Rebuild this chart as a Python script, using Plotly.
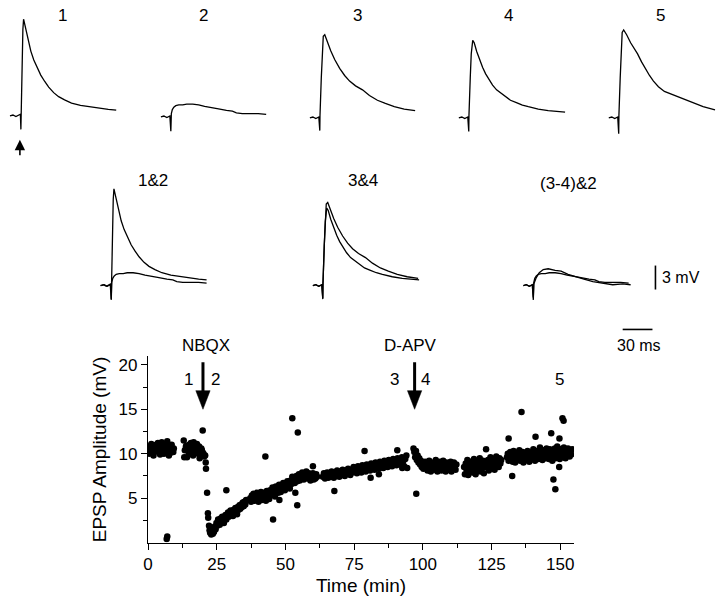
import plotly.graph_objects as go

# ---------------- EPSP amplitude time course (min, mV) ----------------
base_a_t = [0.2, 0.4, 0.6, 1.0, 1.2, 1.4, 1.8, 2.0, 2.2, 2.6, 2.8, 3.0, 3.4, 3.6, 3.8, 4.2, 4.4, 4.6,
            5.0, 5.2, 5.4, 5.8, 6.0, 6.2, 6.6, 6.8, 7.0, 7.4, 7.6, 7.8, 8.2, 8.4, 8.6, 9.0, 9.2, 9.4]
base_a_v = [10.6, 10.0, 10.2, 10.9, 11.1, 10.4, 10.1, 9.8, 10.7, 10.3, 10.8, 11.0, 10.5, 11.2, 10.2, 10.8, 9.9, 10.4,
            11.3, 10.6, 10.6, 10.0, 10.2, 10.9, 10.5, 11.0, 11.4, 10.3, 9.8, 10.7, 10.1, 10.9, 11.0, 10.4, 10.2, 10.6]

base_b_t = [13.0, 13.2, 13.4, 13.8, 14.0, 14.2, 14.6, 14.8, 15.0, 15.4, 15.6, 15.8, 16.2, 16.4, 16.6,
            17.0, 17.2, 17.4, 17.8, 18.0, 18.2, 18.6, 18.8, 19.0, 19.4, 19.6, 19.8, 20.2, 20.4]
base_b_v = [11.5, 9.6, 10.4, 10.8, 10.9, 9.6, 10.6, 10.1, 11.0, 10.2, 11.2, 10.9, 10.5, 9.8, 11.3,
            10.0, 10.6, 10.7, 11.1, 10.1, 10.3, 10.8, 9.5, 9.9, 10.6, 10.4, 10.2, 10.0, 9.7]

nbqx_drop_t = [19.9, 20.8, 21.0, 21.1, 21.5, 21.8, 21.9]
nbqx_drop_v = [12.6, 9.8, 9.0, 8.3, 5.6, 3.3, 2.8]

recov_a_t = [22.2, 22.4, 22.6, 22.8, 23.0, 23.2, 23.4, 23.6, 23.8, 24.0,
             24.3, 24.6, 24.9, 25.2, 25.5, 25.8, 26.1, 26.4, 26.7, 27.0,
             27.3, 27.6, 27.9, 28.2, 28.5, 28.8, 29.1, 29.4, 29.7, 30.0,
             30.3, 30.6, 30.9, 31.2, 31.5, 31.8, 32.1, 32.4, 32.7, 33.0,
             33.3, 33.6, 33.9, 34.2, 34.5, 34.8, 35.1, 35.4, 35.7]
recov_a_v = [1.9, 1.4, 1.1, 1.7, 0.9, 1.3, 1.6, 1.0, 1.5, 1.2,
             1.8, 1.5, 2.2, 1.9, 2.6, 2.3, 2.0, 2.7, 2.4, 2.9,
             2.5, 2.2, 2.8, 3.1, 2.6, 3.0, 3.4, 2.9, 3.3, 3.6,
             3.1, 3.5, 3.0, 3.7, 3.3, 3.9, 3.5, 3.2, 4.0, 3.7,
             4.2, 3.8, 4.3, 4.0, 4.5, 4.1, 4.6, 4.3, 4.8]

recov_b_t = [37.2, 37.5, 37.8, 38.1, 38.4, 38.7, 39.0, 39.3, 39.6, 39.9,
             40.2, 40.5, 40.8, 41.1, 41.4, 41.7, 42.0, 42.3, 42.6, 42.9,
             43.2, 43.5, 43.8, 44.1, 44.4, 44.7, 45.0, 45.3, 45.6, 45.9,
             46.2, 46.5, 46.8, 47.1, 47.4, 47.7, 48.0, 48.3, 48.6, 48.9,
             49.2, 49.5, 49.8, 50.1, 50.4, 50.7, 51.0, 51.3, 51.6, 51.9,
             52.2, 52.5, 52.8, 53.1, 53.4, 53.7, 54.0, 54.3, 54.6, 54.9,
             55.2, 55.5, 55.8, 56.1, 56.4, 56.7, 57.0, 57.3, 57.6, 57.9,
             58.2, 58.5, 58.8, 59.1, 59.4, 59.7, 60.0, 60.3, 60.6, 60.9,
             61.2, 61.5]
recov_b_v = [5.0, 4.6, 5.3, 4.9, 5.5, 4.7, 5.2, 4.9, 5.6, 5.0,
             4.6, 5.3, 5.1, 5.7, 4.8, 5.4, 5.0, 5.6, 5.2, 4.7,
             5.8, 5.3, 5.5, 4.9, 5.9, 5.4, 5.7, 6.2, 5.5, 6.0,
             5.2, 6.3, 5.8, 6.1, 5.6, 6.5, 6.0, 5.7, 6.4, 6.1,
             6.7, 6.2, 5.9, 6.6, 6.3, 6.9, 6.4, 6.8, 6.1, 7.0,
             6.6, 7.4, 6.8, 7.2, 6.7, 7.0, 7.5, 6.9, 7.3, 7.7,
             7.0, 7.6, 7.2, 7.9, 7.4, 7.1, 7.7, 7.3, 8.0, 7.5,
             7.2, 7.8, 7.4, 7.0, 7.6, 7.3, 7.8, 7.1, 7.5, 7.2,
             7.7, 7.4]

recov_c_t = [63.6, 64.0, 64.4, 64.8, 65.2, 65.6, 66.0, 66.4, 66.8, 67.2,
             67.6, 68.0, 68.4, 68.8, 69.2, 69.6, 70.0, 70.4, 70.8, 71.2,
             71.6, 72.0, 72.4, 72.8, 73.2, 73.6, 74.0, 74.4, 74.8, 75.2,
             75.6, 76.0, 76.4, 76.8, 77.2, 77.6, 78.0, 78.4, 78.8, 79.2,
             79.6, 80.0, 80.4, 80.8, 81.2, 81.6, 82.0, 82.4, 82.8, 83.2,
             83.6, 84.0, 84.4, 84.8, 85.2, 85.6, 86.0, 86.4, 86.8, 87.2,
             87.6, 88.0, 88.4, 88.8, 89.2, 89.6, 90.0, 90.4, 90.8, 91.2,
             91.6, 92.0, 92.4, 92.8, 93.2, 93.6, 94.0, 94.3]
recov_c_v = [7.4, 7.8, 7.2, 7.6, 7.9, 7.3, 7.7, 7.4, 8.0, 7.6,
             7.3, 7.9, 7.5, 8.1, 7.7, 7.4, 8.0, 7.6, 8.2, 7.8,
             7.5, 8.1, 7.8, 8.3, 7.9, 7.6, 8.2, 7.9, 8.5, 8.0,
             8.3, 7.8, 8.6, 8.1, 8.4, 7.9, 8.7, 8.2, 8.5, 8.0,
             8.8, 8.3, 8.6, 8.1, 8.9, 8.4, 8.7, 8.2, 9.0, 8.5,
             8.8, 8.3, 9.1, 8.6, 8.9, 8.4, 9.2, 8.7, 9.0, 8.5,
             9.3, 8.8, 9.1, 8.6, 9.4, 8.9, 9.2, 8.7, 9.5, 9.0,
             9.3, 8.8, 9.6, 9.1, 8.6, 9.4, 9.8, 8.4]

apv_a_t = [96.6, 96.9, 97.2, 97.5, 97.8, 98.1, 98.4, 98.7, 99.0, 99.3,
           99.6, 99.9, 100.2, 100.5, 100.8, 101.1, 101.4, 101.7, 102.0, 102.3,
           102.6, 102.9, 103.2, 103.5, 103.8, 104.1, 104.4, 104.7, 105.0, 105.3,
           105.6, 105.9, 106.2, 106.5, 106.8, 107.1, 107.4, 107.7, 108.0, 108.3,
           108.6, 108.9, 109.2, 109.5, 109.8, 110.1, 110.4, 110.7, 111.0, 111.3,
           111.6, 111.9, 112.2]
apv_a_v = [10.6, 10.2, 9.6, 10.3, 9.3, 9.8, 9.0, 9.5, 8.8, 9.2,
           8.5, 9.0, 8.3, 8.8, 9.1, 8.4, 8.9, 8.1, 8.7, 9.2,
           8.5, 8.0, 8.8, 8.3, 9.0, 8.6, 8.2, 9.3, 8.7, 8.0,
           8.9, 8.4, 9.1, 8.6, 8.1, 8.8, 9.2, 8.3, 8.7, 8.0,
           9.0, 8.5, 8.2, 8.9, 8.4, 9.1, 8.0, 8.6, 8.3, 9.0,
           8.5, 8.2, 8.8]

apv_b_t = [115.0, 115.3, 115.6, 115.9, 116.2, 116.5, 116.8, 117.1, 117.4, 117.7,
           118.0, 118.3, 118.6, 118.9, 119.2, 119.5, 119.8, 120.1, 120.4, 120.7,
           121.0, 121.3, 121.6, 121.9, 122.2, 122.5, 122.8, 123.1, 123.4, 123.7,
           124.0, 124.3, 124.6, 124.9, 125.2, 125.5, 125.8, 126.1, 126.4, 126.7,
           127.0, 127.3, 127.6, 127.9, 128.2, 128.5]
apv_b_v = [8.5, 7.7, 8.9, 8.2, 9.3, 7.6, 8.7, 8.1, 9.1, 8.4,
           7.9, 8.8, 9.4, 8.3, 7.7, 8.6, 9.0, 8.2, 8.7, 9.5,
           8.0, 8.9, 8.4, 9.2, 7.8, 8.6, 9.0, 8.5, 8.5, 9.3,
           8.1, 8.8, 9.6, 8.4, 9.0, 8.6, 9.4, 8.2, 8.9, 9.7,
           8.7, 9.2, 8.5, 9.5, 8.9, 9.3]

apv_c_t = [130.6, 130.9, 131.2, 131.5, 131.8, 132.1, 132.4, 132.7, 133.0, 133.3,
           133.6, 133.9, 134.2, 134.5, 134.8, 135.1, 135.4, 135.7, 136.0, 136.3,
           136.6, 136.9, 137.2, 137.5, 137.8, 138.1, 138.4, 138.7, 139.0, 139.3,
           139.6, 139.9, 140.2, 140.5, 140.8, 141.1, 141.4, 141.7, 142.0, 142.3,
           142.6, 142.9, 143.2, 143.5, 143.8, 144.1, 144.4, 144.7, 145.0, 145.3,
           145.6, 145.9, 146.2, 146.5, 146.8, 147.1, 147.4, 147.7, 148.0, 148.3,
           148.6, 148.9, 149.2, 149.5, 149.8, 150.1, 150.4, 150.7, 151.0, 151.3,
           151.6, 151.9, 152.2, 152.5, 152.8, 153.1, 153.4, 153.7, 154.0, 154.3]
apv_c_v = [9.6, 10.0, 9.2, 9.8, 10.2, 9.4, 9.9, 9.1, 10.3, 9.6,
           9.0, 9.8, 10.1, 9.4, 9.7, 10.4, 9.2, 9.9, 9.5, 10.2,
           9.0, 9.7, 10.0, 9.3, 9.8, 10.3, 9.5, 9.1, 9.9, 10.1,
           9.4, 9.8, 10.5, 9.6, 9.2, 10.0, 9.7, 10.3, 9.4, 9.9,
           10.7, 9.6, 10.1, 9.3, 10.4, 9.8, 10.0, 9.5, 10.6, 9.9,
           10.2, 9.4, 10.5, 9.7, 10.1, 9.2, 10.4, 9.8, 10.6, 9.5,
           10.0, 10.8, 9.7, 10.2, 9.4, 10.5, 9.9, 10.3, 9.6, 10.7,
           10.0, 9.5, 10.4, 9.8, 10.6, 10.1, 9.7, 10.3, 9.9, 10.5]

outlier_t = [6.8, 7.0, 28.5, 42.7, 45.5, 47.8, 52.5, 53.6, 54.3, 54.5,
             60.0, 67.8, 78.8, 81.0, 84.0, 90.7, 92.5, 97.6, 123.0, 131.2,
             132.5, 135.9, 141.0, 146.7, 147.5, 148.2, 149.6, 149.7, 150.8, 151.2]
outlier_v = [0.4, 0.7, 5.9, 9.7, 2.6, 4.8, 14.0, 5.6, 4.2, 12.4,
             8.6, 5.8, 10.3, 7.3, 7.7, 10.4, 8.4, 5.5, 10.5, 11.7,
             7.5, 14.7, 11.9, 12.3, 7.1, 6.0, 8.5, 11.7, 14.0, 13.7]

drug_names = ["NBQX", "D-APV"]
drug_times = [20, 97]
sample_labels = ["1", "2", "3", "4", "5"]
sample_times = [14.8, 24.6, 89.6, 100.8, 149.6]

x_ticks = [0, 25, 50, 75, 100, 125, 150]
y_ticks = [5, 10, 15, 20]

# ---------------- EPSP traces (ms after stimulus, mV) ----------------
trace1_ms = [-11, -8, -5, -2, -0.5, 0, 0.2, 1.2, 2.0, 2.7, 4, 6, 8, 10, 13, 16, 20, 24, 28, 33, 38, 44, 51, 60, 70, 80, 88, 96]
trace1_mv = [0.0, 0.1, -0.1, 0.1, 0.2, -1.7, 0.3, 7.0, 10.8, 12.1, 11.4, 10.2, 9.1, 8.1, 7.0, 6.1, 5.1, 4.3, 3.6, 2.9,
             2.4, 2.0, 1.6, 1.3, 1.1, 0.9, 0.8, 0.7]
trace2_ms = [-10, -7, -4, -1, 0, 0.5, 1.5, 3, 5, 8, 12, 16, 22, 28, 34, 40, 48, 56, 62, 66, 72, 80, 88, 96]
trace2_mv = [0, 0.1, -0.1, 0.1, -1.8, 0.4, 0.9, 1.2, 1.4, 1.5, 1.5, 1.6, 1.6, 1.5, 1.3, 1.2, 1.0, 0.8, 0.7, 0.5,
             0.4, 0.4, 0.4, 0.3]
trace3_ms = [-10, -7, -4, -1, 0, 0.2, 1.5, 2.5, 3.5, 5, 8, 11, 15, 20, 25, 30, 36, 43, 50, 58, 66, 75, 85, 96]
trace3_mv = [0, 0.1, -0.1, 0.1, -1.6, 0.3, 5.0, 8.5, 10.2, 10.4, 9.3, 8.4, 7.3, 6.2, 5.3, 4.6, 4.0, 3.5, 2.8, 2.2,
             1.8, 1.4, 1.1, 0.9]
trace4_ms = [-10, -7, -4, -1, 0, 0.2, 1.5, 2.5, 4, 5.5, 8, 11, 14, 17, 20, 24, 28, 32, 36, 42, 48, 54, 60, 70, 80, 90, 97]
trace4_mv = [0, 0.1, -0.1, 0.1, -1.7, 0.3, 5.0, 8.0, 9.7, 9.4, 8.3, 7.2, 6.3, 5.5, 4.9, 4.1, 3.5, 3.1, 2.7, 2.2,
             1.9, 1.6, 1.4, 1.1, 0.9, 0.8, 0.7]
trace5_ms = [-10, -7, -4, -1, 0, 0.2, 1.5, 2.5, 3.5, 5, 8, 12, 16, 19, 23, 27, 31, 35, 40, 46, 52, 59, 66, 75, 85, 97]
trace5_mv = [0, 0.1, -0.1, 0.1, -2.0, 0.3, 5.0, 8.5, 10.7, 11.0, 10.4, 9.4, 8.6, 8.0, 7.0, 6.1, 5.3, 4.6, 3.9, 3.3,
             3.0, 2.7, 2.3, 1.9, 1.4, 1.0]
diff34_ms = [-10, -7, -4, -1, 0, 0.5, 3, 6, 10, 15, 22, 28, 35, 45, 51, 60, 70, 80, 90, 98]
diff34_mv = [0, 0.1, -0.1, 0.1, -1.5, 0.2, 1.0, 1.6, 2.0, 2.1, 1.9, 1.8, 1.4, 1.0, 0.8, 0.5, 0.3, 0.1, 0.2, 0.1]

# ---------------- layout constants (pixels) ----------------
W, H = 720, 601
PX_PER_MS = 1.0
PX_PER_MV = 8.0
FONT = "Liberation Sans"

time_min = (base_a_t + base_b_t + nbqx_drop_t + recov_a_t + recov_b_t + recov_c_t
            + apv_a_t + apv_b_t + apv_c_t + outlier_t)
amp_mv = (base_a_v + base_b_v + nbqx_drop_v + recov_a_v + recov_b_v + recov_c_v
          + apv_a_v + apv_b_v + apv_c_v + outlier_v)

fig = go.Figure()

fig.add_trace(go.Scatter(
    x=time_min, y=amp_mv, mode="markers",
    marker=dict(color="black", size=6.5, line=dict(width=0)),
    xaxis="x", yaxis="y", showlegend=False, hoverinfo="skip"))

traces = {"1": (trace1_ms, trace1_mv), "2": (trace2_ms, trace2_mv), "3": (trace3_ms, trace3_mv),
          "4": (trace4_ms, trace4_mv), "5": (trace5_ms, trace5_mv), "d": (diff34_ms, diff34_mv)}

# panels: (label, label_x, label_y, stim_x, base_y, trace keys)
panels = [
    ("1", 58, 15, 16, 115, ["1"]),
    ("2", 200, 15, 167, 116, ["2"]),
    ("3", 355, 15, 317, 117, ["3"]),
    ("4", 507, 15, 467, 117, ["4"]),
    ("5", 660, 15, 618, 117, ["5"]),
    ("1&2", 149, 180, 107, 285, ["1", "2"]),
    ("3&4", 360, 180, 320, 285, ["3", "4"]),
    ("(3-4)&2", 567, 183, 532, 285, ["d", "2"]),
]

annotations = []
for label, lx, ly, sx, by, keys in panels:
    for k in keys:
        tms, mv = traces[k]
        fig.add_trace(go.Scatter(
            x=[sx + t * PX_PER_MS for t in tms],
            y=[by - v * PX_PER_MV for v in mv],
            mode="lines", line=dict(color="black", width=1.3),
            xaxis="x2", yaxis="y2", showlegend=False, hoverinfo="skip"))
    annotations.append(dict(x=lx, y=ly, xref="x2", yref="y2", text=label, showarrow=False,
                            font=dict(size=17, color="black", family=FONT)))

# stimulus arrow under trace 1
annotations.append(dict(x=15, y=139, ax=15, ay=156, xref="x2", yref="y2", axref="x2", ayref="y2",
                        text="", showarrow=True, arrowhead=2, arrowsize=1.3, arrowwidth=1.6,
                        arrowcolor="black"))

# scale bars
shapes = [
    dict(type="line", xref="x2", yref="y2", x0=655, x1=655, y0=265, y1=265 + 3 * PX_PER_MV,
         line=dict(color="black", width=1.6)),
    dict(type="line", xref="x2", yref="y2", x0=622, x1=622 + 30 * PX_PER_MS, y0=329, y1=329,
         line=dict(color="black", width=1.6)),
]
annotations.append(dict(x=660, y=277, xref="x2", yref="y2", text="3 mV", showarrow=False,
                        xanchor="left", font=dict(size=16, color="black", family=FONT)))
annotations.append(dict(x=638, y=345, xref="x2", yref="y2", text="30 ms", showarrow=False,
                        font=dict(size=16, color="black", family=FONT)))

# drug application arrows
drug_label_px = {"NBQX": 202, "D-APV": 408}
for name, t in zip(drug_names, drug_times):
    shapes.append(dict(type="line", xref="x", yref="y", x0=t, x1=t, y0=20.3, y1=16.8,
                       line=dict(color="black", width=3)))
    shapes.append(dict(type="path", xref="x", yref="y",
                       path=f"M {t-2.6},17.1 L {t+2.6},17.1 L {t},15.0 Z",
                       fillcolor="black", line=dict(color="black", width=0.5)))
    annotations.append(dict(x=drug_label_px[name], y=345, xref="x2", yref="y2", text=name, showarrow=False,
                            font=dict(size=17, color="black", family=FONT)))
for lab, t in zip(sample_labels, sample_times):
    annotations.append(dict(x=t, y=18.3, xref="x", yref="y", text=lab, showarrow=False,
                            font=dict(size=17, color="black", family=FONT)))

axis_common = dict(showgrid=False, zeroline=False, showline=True, linecolor="black", linewidth=1.3,
                   ticks="outside", ticklen=6, tickwidth=1.2, tickcolor="black",
                   tickfont=dict(size=17, color="black", family=FONT))

fig.update_layout(
    width=W, height=H, margin=dict(l=0, r=0, t=0, b=0),
    paper_bgcolor="white", plot_bgcolor="rgba(0,0,0,0)",
    xaxis=dict(domain=[144 / W, 573 / W], range=[0, 155], tickvals=x_ticks, anchor="y",
               minor=dict(tickvals=[12.5, 37.5, 62.5, 87.5, 112.5, 137.5], ticks="outside",
                          ticklen=4, tickcolor="black", tickwidth=1.2),
               title=dict(text="Time (min)", standoff=5, font=dict(size=19, color="black", family=FONT)),
               **axis_common),
    yaxis=dict(domain=[1 - 542.5 / H, 1 - 356 / H], range=[0, 20.95], tickvals=y_ticks, anchor="x",
               minor=dict(tickvals=[2.5, 7.5, 12.5, 17.5], ticks="outside",
                          ticklen=4, tickcolor="black", tickwidth=1.2),
               title=dict(text="EPSP Amplitude (mV)", standoff=6, font=dict(size=19, color="black", family=FONT)),
               **axis_common),
    xaxis2=dict(domain=[0, 1], range=[0, W], visible=False, anchor="y2", fixedrange=True),
    yaxis2=dict(domain=[0, 1], range=[H, 0], visible=False, anchor="x2", fixedrange=True),
    shapes=shapes, annotations=annotations, showlegend=False,
)

fig.write_html("out.html", config={"displayModeBar": False},
               post_script="document.body.style.margin='0';")
